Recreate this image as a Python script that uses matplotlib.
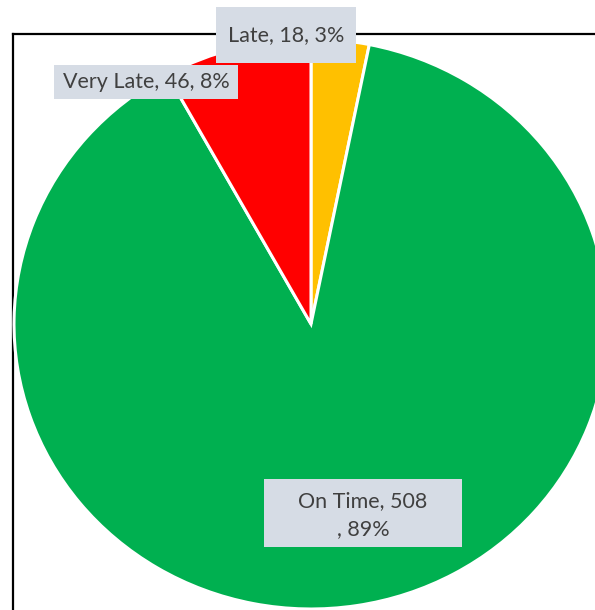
import matplotlib
matplotlib.use("Agg")
import matplotlib.pyplot as plt
from matplotlib.patches import Rectangle
from matplotlib.lines import Line2D

categories = ["Late", "On Time", "Very Late"]
values = [18, 508, 46]
percents = ["3%", "89%", "8%"]
colors = ["#FFC000", "#00B050", "#FF0000"]

W, H = 595, 610
fig = plt.figure(figsize=(W / 100, H / 100), dpi=100)
fig.patch.set_facecolor("white")

def fx(px):
    return px / W

def fy(py):
    return 1 - py / H

# frame (plot area border)
fig.add_artist(Line2D([fx(12.5), fx(12.5)], [fy(34), fy(700)], color="black", lw=1.6, zorder=0))
fig.add_artist(Line2D([fx(12.5), fx(700)], [fy(34), fy(34)], color="black", lw=1.6, zorder=0))

ax = fig.add_axes([0, 0, 1, 1])
ax.set_facecolor("none")
cx, cy, rx, ry = 311, 324, 297, 285
ax.pie(values, colors=colors, startangle=90, counterclock=False,
       wedgeprops=dict(edgecolor="white", linewidth=2.2))
ax.set_aspect("auto")
ax.set_xlim(-cx / rx, (W - cx) / rx)
ax.set_ylim((cy - H) / ry, cy / ry)
ax.axis("off")

font = dict(family=["Lato", "DejaVu Sans"], fontsize=15.5, color="#404040")
boxcol = "#D6DCE5"

def box(x0, y0, x1, y1):
    fig.add_artist(Rectangle((fx(x0), fy(y1)), fx(x1) - fx(x0), fy(y0) - fy(y1),
                             facecolor=boxcol, edgecolor="none", zorder=5))

# Late label
box(216, 7, 356, 63)
fig.text(fx(286), fy(35), f"{categories[0]}, {values[0]}, {percents[0]}",
         ha="center", va="center", zorder=6, **font)
# Very Late label
box(54, 65, 238, 99)
fig.text(fx(146), fy(82), f"{categories[2]}, {values[2]}, {percents[2]}",
         ha="center", va="center", zorder=6, **font)
# On Time label
box(264, 479, 462, 547)
fig.text(fx(363), fy(501), f"{categories[1]}, {values[1]}",
         ha="center", va="center", zorder=6, **font)
fig.text(fx(363), fy(529), f", {percents[1]}",
         ha="center", va="center", zorder=6, **font)

fig.savefig("out.png", dpi=100)
